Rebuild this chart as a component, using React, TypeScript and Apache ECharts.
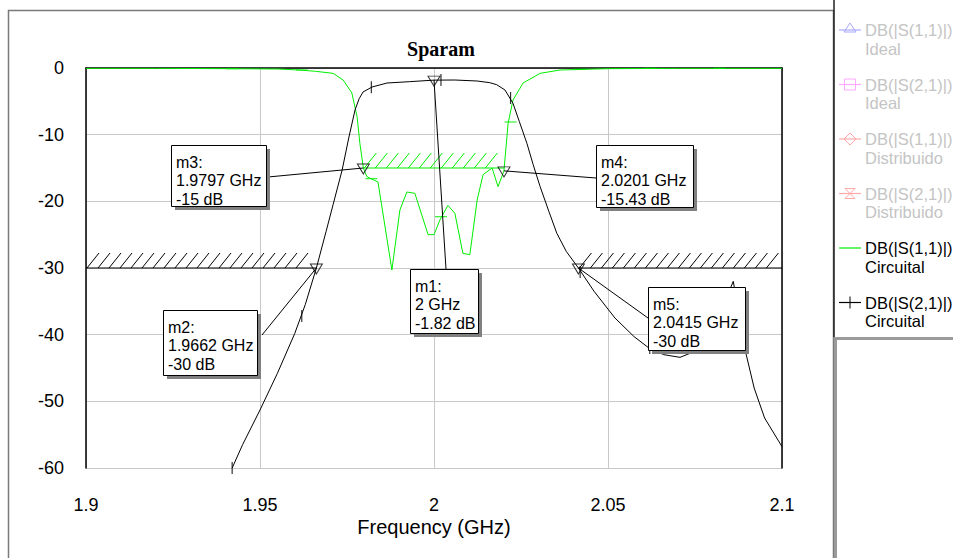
import React, { useEffect, useRef } from "react";
import * as echarts from "echarts";

// ---- data ----
const s11Freq = [1.9, 1.92, 1.94, 1.955, 1.9615, 1.966, 1.971, 1.9739, 1.9764, 1.9779, 1.9787, 1.9797, 1.9807, 1.9839, 1.9879, 1.9902, 1.9922, 1.9945, 1.9983, 2.0, 2.0017, 2.004, 2.006, 2.0083, 2.0103, 2.0124, 2.0141, 2.0167, 2.0184, 2.0201, 2.0213, 2.0227, 2.0256, 2.0305, 2.0362, 2.05, 2.07, 2.1];
const s11Db = [-0.05, -0.05, -0.1, -0.15, -0.3, -0.5, -0.8, -1.8, -3.75, -7.3, -11.3, -15, -16.3, -17.1, -30.3, -21.3, -18.6, -18.8, -25, -25, -22.8, -20.6, -21.8, -27.8, -28, -19.8, -16, -15, -17.8, -15.43, -8.3, -4.8, -2.25, -0.8, -0.3, -0.1, -0.05, -0.05];

const s21Freq = [1.942, 1.945, 1.95, 1.955, 1.96, 1.963, 1.9662, 1.969, 1.971, 1.9736, 1.9755, 1.9773, 1.9785, 1.9796, 1.9822, 1.9865, 1.993, 2.0, 2.006, 2.0124, 2.016, 2.018, 2.0204, 2.0227, 2.0245, 2.0267, 2.0285, 2.0305, 2.033, 2.0353, 2.038, 2.0415, 2.046, 2.052, 2.0575, 2.0615, 2.066, 2.0707, 2.075, 2.08, 2.084, 2.086, 2.0875, 2.0894, 2.092, 2.095, 2.1];
const s21Db = [-60, -56.5, -51.3, -45.8, -39.8, -35.5, -30, -24.5, -20.5, -15.3, -10.5, -6.3, -4.6, -3.6, -2.85, -2.25, -2.05, -1.82, -1.8, -1.95, -2.2, -2.5, -3.3, -5.3, -8.0, -11.3, -14.5, -17.8, -21.5, -24.8, -27.5, -30, -33.5, -37.5, -40.3, -41.9, -43.0, -43.4, -42.5, -39, -34.5, -32, -36.5, -42.3, -48, -52.5, -56.8];

const symbolFreq = [1.942, 1.962, 1.982, 2.002, 2.022, 2.042, 2.062, 2.082];
const s11SymbolDb = [-0.1, -0.3, -16.6, -22.3, -8.1, -0.2, -0.05, -0.05];
const s21SymbolDb = [-60, -37.2, -2.9, -1.8, -4.5, -30.6, -42, -38];

const markerNames = ["m1", "m2", "m3", "m4", "m5"];
const markerFreq = [2.0, 1.9662, 1.9797, 2.0201, 2.0415];
const markerDb = [-1.82, -30, -15, -15.43, -30];
const markerFreqText = ["2 GHz", "1.9662 GHz", "1.9797 GHz", "2.0201 GHz", "2.0415 GHz"];
const markerDbText = ["-1.82 dB", "-30 dB", "-15 dB", "-15.43 dB", "-30 dB"];

const specStart = [1.9, 2.0415, 1.9797];
const specStop = [1.9662, 2.1, 2.0201];
const specLevel = [-30, -30, -15];

const legendLine1 = ["DB(|S(1,1)|)", "DB(|S(2,1)|)", "DB(|S(1,1)|)", "DB(|S(2,1)|)", "DB(|S(1,1)|)", "DB(|S(2,1)|)"];
const legendLine2 = ["Ideal", "Ideal", "Distribuido", "Distribuido", "Circuital", "Circuital"];

const xMin = 1.9, xMax = 2.1, xStep = 0.05;
const yMin = -60, yMax = 0, yStep = 10;

// ---- styling / layout ----
const GREEN = "#00ee00";
const FONT = "'Liberation Sans', Arial, sans-serif";
const boxes = [
  { x: 410, y: 269, w: 68, h: 64, ax: 446, ay: 269 },
  { x: 163, y: 310, w: 94, h: 65, ax: 262, ay: 335 },
  { x: 171, y: 145, w: 95, h: 61, ax: 268, ay: 177 },
  { x: 596, y: 145, w: 97, h: 62, ax: 596, ay: 178 },
  { x: 648, y: 287, w: 97, h: 63, ax: 648, ay: 318 },
];
const legendColors = ["#a8a8ff", "#ffa8ff", "#ffa8a8", "#ffa8a8", GREEN, "#000000"];
const legendText = ["#c4c4c4", "#c4c4c4", "#c4c4c4", "#c4c4c4", "#000000", "#000000"];

function legendSymbol(i: number, cx: number, cy: number): any[] {
  const c = legendColors[i];
  const st = { stroke: c, fill: "none", lineWidth: 1 };
  const out: any[] = [
    { type: "line", shape: { x1: cx - 11, y1: cy, x2: cx + 11, y2: cy }, style: { stroke: c, lineWidth: 1.2 } },
  ];
  if (i === 0) out.push({ type: "polygon", shape: { points: [[cx, cy - 7], [cx - 6, cy + 2], [cx + 6, cy + 2]] }, style: st });
  if (i === 1) out.push({ type: "rect", shape: { x: cx - 5.5, y: cy - 5.5, width: 11, height: 11 }, style: st });
  if (i === 2) out.push({ type: "polygon", shape: { points: [[cx, cy - 6], [cx + 6, cy], [cx, cy + 6], [cx - 6, cy]] }, style: st });
  if (i === 3) out.push({ type: "polygon", shape: { points: [[cx - 5, cy - 5], [cx + 5, cy - 5], [cx - 5, cy + 5], [cx + 5, cy + 5]] }, style: st });
  if (i === 5) out.push({ type: "line", shape: { x1: cx, y1: cy - 6, x2: cx, y2: cy + 6 }, style: { stroke: c, lineWidth: 1 } });
  return out;
}

export default function App() {
  const ref = useRef<HTMLDivElement>(null);
  useEffect(() => {
    if (!ref.current) return;
    const chart = echarts.init(ref.current, undefined, { renderer: "svg" });
    const option: any = {
      animation: false,
      backgroundColor: "#ffffff",
      title: {
        text: "Sparam",
        left: 436,
        top: 34,
        textAlign: "center",
        textStyle: { fontFamily: "'Liberation Serif', 'Times New Roman', serif", fontWeight: "bold", fontSize: 20, color: "#000" },
      },
      grid: { left: 86, top: 68, width: 696, height: 400, containLabel: false },
      xAxis: {
        type: "value",
        min: xMin,
        max: xMax,
        interval: xStep,
        name: "Frequency (GHz)",
        nameLocation: "middle",
        nameGap: 49,
        nameMoveOverlap: false,
        nameTextStyle: { fontFamily: FONT, fontSize: 20, color: "#000", lineHeight: 20 },
        axisLine: { show: true, lineStyle: { color: "#000", width: 1.5 } },
        axisTick: { show: false },
        axisLabel: {
          fontFamily: FONT, fontSize: 18, color: "#000", margin: 28, lineHeight: 18,
          formatter: (v: number) => String(+v.toFixed(3)),
        },
        splitLine: { show: true, lineStyle: { color: "#c8c8c8", width: 1 } },
      },
      yAxis: [
        {
          type: "value",
          min: yMin,
          max: yMax,
          interval: yStep,
          axisLine: { show: true, lineStyle: { color: "#000", width: 1.5 } },
          axisTick: { show: false },
          axisLabel: { fontFamily: FONT, fontSize: 18, color: "#000", margin: 22 },
          splitLine: { show: true, lineStyle: { color: "#c8c8c8", width: 1 } },
        },
        {
          type: "value",
          position: "right",
          min: yMin,
          max: yMax,
          interval: yStep,
          axisLine: { show: true, lineStyle: { color: "#000", width: 1.5 } },
          axisTick: { show: false },
          axisLabel: { show: false },
          splitLine: { show: false },
        },
      ],
      series: [
        {
          name: "DB(|S(1,1)|) Circuital",
          type: "line",
          data: s11Freq.map((f, i) => [f, s11Db[i]]),
          showSymbol: false,
          lineStyle: { color: GREEN, width: 1 },
          itemStyle: { color: GREEN },
          z: 3,
        },
        {
          name: "DB(|S(2,1)|) Circuital",
          type: "line",
          data: s21Freq.map((f, i) => [f, s21Db[i]]),
          showSymbol: false,
          lineStyle: { color: "#000", width: 1 },
          itemStyle: { color: "#000" },
          z: 4,
        },
        {
          type: "scatter",
          data: symbolFreq.map((f, i) => [f, s11SymbolDb[i]]),
          symbol: "rect",
          symbolSize: [12, 1.2],
          itemStyle: { color: GREEN },
          z: 3,
        },
        {
          type: "scatter",
          data: symbolFreq.map((f, i) => [f, s21SymbolDb[i]]),
          symbol: "rect",
          symbolSize: [1.2, 12],
          itemStyle: { color: "#000" },
          z: 4,
        },
        {
          type: "custom",
          data: specStart.map((s, i) => [s, specStop[i], specLevel[i], i]),
          encode: { x: [0, 1], y: 2 },
          z: 5,
          renderItem: (params: any, api: any) => {
            const x1 = api.value(0), x2 = api.value(1), y = api.value(2), idx = api.value(3);
            const p1 = api.coord([x1, y]);
            const p2 = api.coord([x2, y]);
            const color = idx === 2 ? GREEN : "#000";
            const children: any[] = [
              { type: "line", shape: { x1: p1[0], y1: p1[1], x2: p2[0], y2: p2[1] }, style: { stroke: color, lineWidth: 1.2 } },
            ];
            for (let x = p1[0] + 1; x + 12 <= p2[0] + 0.5; x += 11) {
              children.push({ type: "line", shape: { x1: x, y1: p1[1], x2: x + 12, y2: p1[1] - 15 }, style: { stroke: color, lineWidth: 1 } });
            }
            return { type: "group", children };
          },
        },
        {
          type: "scatter",
          data: markerFreq.map((f, i) => [f, markerDb[i]]),
          symbol: "triangle",
          symbolRotate: 180,
          symbolSize: [12, 10],
          symbolOffset: [0, 1],
          itemStyle: { color: "rgba(255,255,255,0)", borderColor: "#000", borderWidth: 1 },
          z: 6,
        },
      ],
    };
    chart.setOption(option);

    const graphics: any[] = [];
    // outer frame and legend panel
    graphics.push({ type: "rect", shape: { x: 8.5, y: 10.5, width: 825, height: 600 }, style: { stroke: "#7a7a7a", fill: "none", lineWidth: 1.5 }, z: 1 });
    graphics.push({ type: "line", shape: { x1: 834, y1: 0, x2: 834, y2: 337 }, style: { stroke: "#202020", lineWidth: 1.5 }, z: 1 });
    graphics.push({ type: "line", shape: { x1: 834, y1: 338.5, x2: 953, y2: 338.5 }, style: { stroke: "#9a9a9a", lineWidth: 3 }, z: 1 });
    graphics.push({ type: "line", shape: { x1: 835.5, y1: 337, x2: 835.5, y2: 558 }, style: { stroke: "#9a9a9a", lineWidth: 3 }, z: 1 });

    // legend
    for (let i = 0; i < legendLine1.length; i++) {
      const cy = 30 + i * 54.5;
      legendSymbol(i, 850, cy).forEach((g) => graphics.push({ ...g, z: 20 }));
      graphics.push({ type: "text", x: 865, y: cy, style: { text: legendLine1[i], fill: legendText[i], font: `16.5px ${FONT}`, verticalAlign: "middle" }, z: 20 });
      graphics.push({ type: "text", x: 865, y: cy + 18.5, style: { text: legendLine2[i], fill: legendText[i], font: `16.5px ${FONT}`, verticalAlign: "middle" }, z: 20 });
    }

    // marker boxes with leader lines
    for (let i = 0; i < markerNames.length; i++) {
      const b = boxes[i];
      const p = chart.convertToPixel({ gridIndex: 0 }, [markerFreq[i], markerDb[i]]) as number[];
      graphics.push({ type: "line", shape: { x1: p[0], y1: p[1], x2: b.ax, y2: b.ay }, style: { stroke: "#000", lineWidth: 1 }, z: 30 });
      graphics.push({ type: "rect", shape: { x: b.x + 4, y: b.y + 4, width: b.w, height: b.h }, style: { fill: "#808080" }, z: 31 });
      graphics.push({ type: "rect", shape: { x: b.x + 0.5, y: b.y + 0.5, width: b.w, height: b.h }, style: { fill: "#fff", stroke: "#000", lineWidth: 1 }, z: 32 });
      const lines = [markerNames[i] + ":", markerFreqText[i], markerDbText[i]];
      lines.forEach((t, k) => {
        graphics.push({ type: "text", x: b.x + 5, y: b.y + 17 + k * 18.5, style: { text: t, fill: "#000", font: `16px ${FONT}`, verticalAlign: "middle" }, z: 33 });
      });
    }
    chart.setOption({ graphic: { elements: graphics } });

    return () => chart.dispose();
  }, []);
  return <div ref={ref} style={{ position: "absolute", left: 0, top: 0, width: 953, height: 558 }} />;
}
